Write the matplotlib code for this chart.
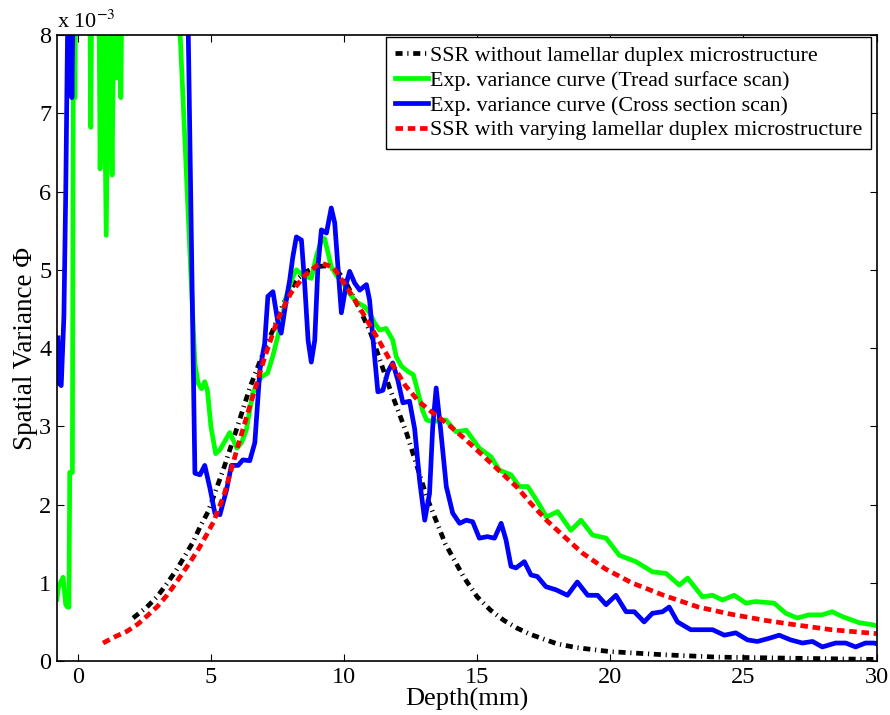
import matplotlib
matplotlib.use("Agg")
import matplotlib.pyplot as plt
import numpy as np

plt.rcParams['font.family'] = ['Liberation Serif', 'DejaVu Serif']
plt.rcParams['mathtext.fontset'] = 'stix'

# depth in mm, variance in units of 1e-3
ssr_plain_x = [2.08, 2.6, 3.0, 3.35, 3.7, 4.0, 4.33, 4.6, 4.9, 5.5, 6.0, 6.47, 7.0, 7.33, 7.7, 8.2,
               8.6, 9.0, 9.3, 9.7, 10.0, 10.6, 11.0, 11.7, 12.35, 13.1, 13.8, 14.5, 15.0, 15.5,
               16.0, 16.5, 17.0, 18.0, 18.6, 19.0, 20.0, 22.0, 24.0, 26.0, 28.0, 30.0]
ssr_plain_y = [0.55, 0.69, 0.83, 0.99, 1.16, 1.33, 1.52, 1.72, 1.91, 2.48, 3.0, 3.5, 3.97, 4.23,
               4.55, 4.87, 4.98, 5.04, 5.05, 5.0, 4.88, 4.49, 4.19, 3.5, 2.91, 2.1, 1.5, 1.07,
               0.82, 0.65, 0.52, 0.42, 0.34, 0.22, 0.18, 0.16, 0.12, 0.08, 0.05, 0.04, 0.03, 0.02]

tread_x = [-0.78, -0.72, -0.55, -0.45, -0.38, -0.33, -0.30, -0.20, -0.17, -0.10, -0.05,
           0.40, 0.49, 0.58, 0.75, 0.84, 0.95, 1.07, 1.18, 1.29, 1.38, 1.47, 1.55, 1.62, 1.70,
           2.5, 3.84, 4.4, 4.52, 4.65, 4.77, 4.87, 5.0, 5.18, 5.34, 5.71, 5.98, 6.15, 6.33,
           6.57, 6.89, 7.13, 7.32, 7.64, 7.83, 8.08, 8.21, 8.45, 8.77, 8.96, 9.15, 9.27, 9.52,
           9.71, 9.96, 10.2, 10.46, 10.77, 10.96, 11.15, 11.33, 11.58, 11.83, 11.96, 12.15,
           12.4, 12.6, 12.76, 12.95, 13.1, 13.33, 13.83, 14.2, 14.59, 15.08, 15.52, 15.83,
           16.27, 16.58, 16.9, 17.35, 17.6, 18.02, 18.52, 18.9, 19.33, 19.84, 20.34, 20.96,
           21.58, 22.09, 22.59, 22.9, 23.46, 23.84, 24.21, 24.65, 25.09, 25.46, 26.15, 26.59,
           27.02, 27.46, 27.95, 28.33, 28.7, 29.34, 29.9, 30.0]
tread_y = [0.79, 0.95, 1.07, 0.72, 0.69, 0.69, 2.41, 2.41, 7.2, 7.2, 11.0,
           11.0, 6.82, 11.0, 11.0, 6.29, 9.0, 5.44, 9.0, 6.21, 9.0, 7.45, 9.0, 7.2, 10.0,
           14.0, 8.05, 3.8, 3.55, 3.48, 3.57, 3.46, 3.0, 2.65, 2.7, 2.92, 2.72, 2.79, 2.95,
           3.42, 3.63, 3.68, 3.89, 4.32, 4.66, 4.91, 5.0, 4.93, 4.89, 5.17, 5.38, 5.4, 5.04,
           4.93, 4.83, 4.7, 4.59, 4.53, 4.45, 4.32, 4.23, 4.25, 4.1, 3.89, 3.77,
           3.7, 3.66, 3.46, 3.2, 3.08, 3.06, 3.08, 2.93, 2.95, 2.72, 2.61, 2.44,
           2.38, 2.23, 2.23, 1.99, 1.84, 1.91, 1.67, 1.8, 1.61, 1.57, 1.35, 1.27,
           1.14, 1.12, 0.97, 1.06, 0.82, 0.84, 0.78, 0.84, 0.74, 0.76, 0.74, 0.61,
           0.55, 0.59, 0.59, 0.63, 0.57, 0.49, 0.46, 0.45]

cross_x = [-0.74, -0.70, -0.62, -0.52, -0.45, -0.35, -0.28, -0.22, -0.15, 0.2, 3.0, 4.15,
           4.4, 4.59, 4.77, 4.97, 5.15, 5.34, 5.59, 5.77, 6.02, 6.2, 6.46, 6.65, 6.84, 7.02,
           7.14, 7.33, 7.52, 7.64, 7.83, 7.96, 8.08, 8.21, 8.4, 8.52, 8.65, 8.77, 8.9, 9.02,
           9.15, 9.34, 9.52, 9.65, 9.77, 9.9, 10.09, 10.21, 10.4, 10.59, 10.84, 10.96, 11.08,
           11.27, 11.46, 11.65, 11.83, 12.02, 12.21, 12.46, 12.65, 12.84, 13.03, 13.21, 13.33,
           13.46, 13.63, 13.84, 14.08, 14.34, 14.59, 14.83, 15.08, 15.38, 15.65, 15.9, 16.08,
           16.27, 16.46, 16.77, 17.02, 17.26, 17.58, 17.96, 18.39, 18.76, 19.15, 19.52, 19.84,
           20.21, 20.59, 20.9, 21.27, 21.58, 21.96, 22.21, 22.52, 23.02, 23.52, 23.84, 24.28,
           24.71, 25.15, 25.52, 25.96, 26.34, 26.77, 27.21, 27.59, 27.96, 28.46, 28.84, 29.21,
           29.58, 29.9, 30.0]
cross_y = [4.13, 3.55, 3.52, 4.4, 6.0, 9.0, 9.0, 7.2, 9.0, 12.0, 14.0, 8.05,
           2.4, 2.38, 2.5, 2.2, 1.89, 1.87, 2.19, 2.5, 2.5, 2.57, 2.56, 2.79, 3.72, 4.06,
           4.66, 4.72, 4.32, 4.19, 4.61, 4.87, 5.17, 5.42, 5.38, 4.83, 4.1, 3.82, 4.1, 5.04,
           5.51, 5.47, 5.79, 5.6, 5.04, 4.45, 4.83, 4.98, 4.83, 4.74, 4.81, 4.61, 4.14,
           3.44, 3.46, 3.7, 3.81, 3.59, 3.3, 3.32, 2.97, 2.3, 1.8, 2.14, 2.99,
           3.49, 2.95, 2.23, 1.89, 1.76, 1.8, 1.78, 1.57, 1.59, 1.57, 1.76, 1.55,
           1.21, 1.19, 1.27, 1.1, 1.08, 0.95, 0.91, 0.84, 1.01, 0.84, 0.84, 0.72,
           0.84, 0.63, 0.63, 0.5, 0.61, 0.63, 0.69, 0.5, 0.4, 0.4, 0.4, 0.33,
           0.36, 0.27, 0.25, 0.29, 0.33, 0.27, 0.23, 0.25, 0.18, 0.23, 0.23, 0.18,
           0.23, 0.23, 0.22]

ssr_var_x = [0.95, 1.4, 1.85, 2.25, 2.65, 3.0, 3.35, 3.65, 3.95, 4.25, 4.55, 4.85, 5.1, 5.5,
             6.0, 6.5, 7.0, 7.5, 8.0, 8.5, 9.0, 9.2, 9.6, 10.1, 10.7, 11.3, 11.8, 12.3, 12.8,
             13.3, 13.85, 14.5, 15.2, 15.8, 16.5, 17.0, 17.6, 18.3, 18.95, 19.8, 20.8, 22.0,
             23.3, 24.5, 25.8, 27.0, 28.3, 30.0]
ssr_var_y = [0.23, 0.31, 0.38, 0.47, 0.59, 0.70, 0.84, 0.98, 1.13, 1.28, 1.44, 1.62, 1.78, 2.13,
             2.73, 3.30, 3.86, 4.36, 4.70, 4.92, 5.06, 5.08, 5.03, 4.78, 4.45, 4.10, 3.80, 3.52,
             3.32, 3.18, 3.04, 2.85, 2.63, 2.44, 2.22, 2.02, 1.80, 1.58, 1.38, 1.18, 1.00, 0.84,
             0.69, 0.60, 0.52, 0.46, 0.40, 0.35]

labels = ['SSR without lamellar duplex microstructure',
          'Exp. variance curve (Tread surface scan)',
          'Exp. variance curve (Cross section scan)',
          'SSR with varying lamellar duplex microstructure']

fig = plt.figure(figsize=(8.9, 7.15), dpi=100)
ax = fig.add_axes([0.064, 0.0755, 0.921, 0.8755])

ax.plot(ssr_plain_x, ssr_plain_y, color='black', lw=3.4,
        linestyle=(0, (1.5, 1.0, 0.25, 1.0)), label=labels[0])
ax.plot(tread_x, tread_y, color=(0, 1, 0), lw=3.4, label=labels[1])
ax.plot(cross_x, cross_y, color=(0, 0, 1), lw=3.4, label=labels[2])
ax.plot(ssr_var_x, ssr_var_y, color=(1, 0, 0), lw=3.4,
        linestyle=(0, (1.6, 1.0)), label=labels[3])

ax.set_xlim(-0.78, 30)
ax.set_ylim(0, 8)
ax.set_xticks(np.arange(0, 31, 5))
ax.set_yticks(np.arange(0, 9, 1))
ax.tick_params(direction='in', top=True, right=True, length=5, width=0.8,
               labelsize=17.5, pad=4)
for s in ax.spines.values():
    s.set_linewidth(1.2)

ax.set_xlabel('Depth(mm)', fontsize=19, labelpad=0)
ax.set_ylabel('Spatial Variance Φ', fontsize=19.5, labelpad=1)
ax.text(0.0, 1.004, r'x 10$^{-3}$', transform=ax.transAxes, fontsize=16,
        ha='left', va='bottom')

leg = ax.legend(loc='upper right', bbox_to_anchor=(0.993, 0.997), borderaxespad=0,
                fontsize=15.8, handlelength=1.5, handletextpad=0.1, labelspacing=0.2,
                borderpad=0.4, fancybox=False, framealpha=1, edgecolor='black')
leg.get_frame().set_linewidth(1.0)

fig.savefig('out.png', dpi=100)
